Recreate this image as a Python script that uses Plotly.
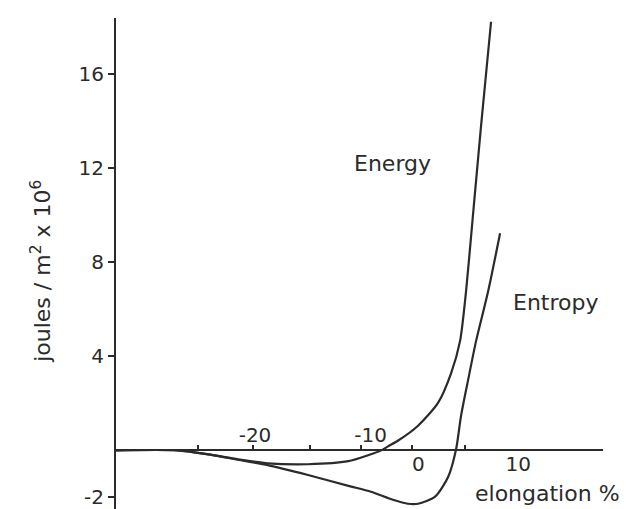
import plotly.graph_objects as go

# ---- data ----
energy_x = [-27.9, -22.1, -19.2, -16.4, -13.6, -9.8, -6.0, -4.15, -2.9, -2.26, -1.3, 0.57, 2.45, 3.68, 4.53, 5.09, 5.66, 6.5, 7.45]
energy_y = [0, 0, -0.17, -0.38, -0.55, -0.59, -0.46, -0.21, 0, 0.17, 0.42, 1.05, 2.02, 3.28, 4.66, 6.76, 9.58, 13.78, 18.24]

entropy_x = [-27.9, -22.1, -19.2, -16.4, -13.6, -9.8, -6.0, -3.87, -1.8, -0.38, 0.57, 2.17, 3.4, 4.15, 4.62, 5.28, 6.04, 7.17, 8.3]
entropy_y = [0, 0, -0.17, -0.4, -0.63, -1.05, -1.51, -1.76, -2.1, -2.27, -2.27, -1.97, -1.13, 0.04, 1.47, 2.98, 4.66, 6.76, 9.24]

y_tickvals = [-2, 4, 8, 12, 16]
y_ticktext = ["-2", "4", "8", "12", "16"]

x_tickmarks = [-20.2, -15, -9.6, -4.8, 0, 5]
x_bottom_vals = [0.6, 10.0]
x_bottom_text = ["0", "10"]
x_top_vals = [-14.8, -3.9]
x_top_text = ["-20", "-10"]

X_RANGE = [-27.9, 18.0]
Y_RANGE = [-2.75, 18.4]

INK = "#2b2b2b"
FONT = "DejaVu Sans"

pos0 = (0 - Y_RANGE[0]) / (Y_RANGE[1] - Y_RANGE[0])

fig = go.Figure()
fig.add_trace(go.Scatter(x=energy_x, y=energy_y, mode="lines",
                         line=dict(color=INK, width=2.2, shape="spline", smoothing=0.7),
                         showlegend=False, hoverinfo="skip"))
fig.add_trace(go.Scatter(x=entropy_x, y=entropy_y, mode="lines",
                         line=dict(color=INK, width=2.2, shape="spline", smoothing=0.7),
                         showlegend=False, hoverinfo="skip"))
fig.add_trace(go.Scatter(x=[None], y=[None], xaxis="x2", yaxis="y", showlegend=False, hoverinfo="skip"))
fig.add_trace(go.Scatter(x=[None], y=[None], xaxis="x3", yaxis="y", showlegend=False, hoverinfo="skip"))

tickfont = dict(family=FONT, size=20, color=INK)

fig.update_layout(
    width=630, height=509,
    margin=dict(l=108, r=35, t=10, b=2, pad=0),
    plot_bgcolor="white", paper_bgcolor="white",
    showlegend=False,
    yaxis=dict(range=Y_RANGE, showline=True, linecolor=INK, linewidth=2,
               ticks="outside", ticklen=6, tickwidth=1.5, tickcolor=INK,
               tickvals=y_tickvals, ticktext=y_ticktext, tickfont=tickfont,
               showgrid=False, zeroline=False),
    xaxis=dict(range=X_RANGE, anchor="free", position=pos0, showline=True,
               linecolor=INK, linewidth=2, ticks="inside", ticklen=4, tickwidth=1.5,
               tickcolor=INK, tickvals=x_tickmarks, showticklabels=False,
               showgrid=False, zeroline=False),
    xaxis2=dict(range=X_RANGE, overlaying="x", anchor="free", position=pos0,
                side="bottom", ticks="", tickvals=x_bottom_vals, ticktext=x_bottom_text,
                tickfont=tickfont, showline=False, showgrid=False, zeroline=False),
    xaxis3=dict(range=X_RANGE, overlaying="x", anchor="free", position=pos0,
                side="top", ticks="", tickvals=x_top_vals, ticktext=x_top_text,
                ticklabelstandoff=4,
                tickfont=tickfont, showline=False, showgrid=False, zeroline=False),
)

labfont = dict(family=FONT, size=22, color=INK)
fig.add_annotation(x=-1.8, y=12.2, text="Energy", showarrow=False, font=labfont,
                   xanchor="center", yanchor="middle")
fig.add_annotation(x=13.5, y=6.3, text="Entropy", showarrow=False, font=labfont,
                   xanchor="center", yanchor="middle")
fig.add_annotation(x=12.8, y=-1.85, text="elongation %", showarrow=False, font=labfont,
                   xanchor="center", yanchor="middle")
fig.add_annotation(xref="paper", x=(33 - 108) / 487, y=7.6,
                   text="joules / m<sup>2</sup> x 10<sup>6</sup>", textangle=-90,
                   showarrow=False, font=labfont, xanchor="center", yanchor="middle")

fig.write_html("out.html")
